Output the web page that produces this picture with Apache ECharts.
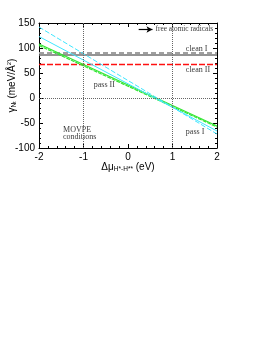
<!DOCTYPE html>
<html><head><meta charset="utf-8">
<script src="https://cdn.jsdelivr.net/npm/echarts@6/dist/echarts.min.js"></script>
<style>html,body{margin:0;padding:0;background:#fff}#c{width:261px;height:338px}</style>
</head><body><div id="c"></div>
<script>
var xEnds = [-2, 2];
var cyanDashed = [142, -72];
var cyanSolid = [123, -66];
var greenA = [108, -56];
var greenB = [105, -58];
var cleanIDashed = 90;
var cleanISolid = 86;
var cleanII = 67;
var notes = [
  {name: 'free atomic radicals', x: 0.62, y: 137, size: 7.3},
  {name: 'clean I', x: 1.3, y: 99, size: 8},
  {name: 'clean II', x: 1.3, y: 57, size: 8},
  {name: 'pass II', x: -0.77, y: 27, size: 8},
  {name: 'MOVPE', x: -1.46, y: -64, size: 8},
  {name: 'conditions', x: -1.46, y: -77, size: 8},
  {name: 'pass I', x: 1.3, y: -68, size: 8}
];
var arrowFrom = [0.24, 137], arrowTo = [0.55, 137];

function seg(vals){ return xEnds.map(function(x,i){return [x, vals[i]];}); }
function flat(v){ return xEnds.map(function(x){return [x, v];}); }

var chart = echarts.init(document.getElementById('c'), null, {renderer:'canvas'});
var sans = 'Liberation Sans, Arial, sans-serif';
var axisFont = {fontFamily:sans, fontSize:10, color:'#000'};
var serif = 'Liberation Serif, Times New Roman, serif';
var baseX = {type:'value', min:-2, max:2, interval:1,
  axisLine:{show:true, onZero:false, lineStyle:{color:'#000', width:1}},
  axisTick:{show:true, inside:true, length:4, lineStyle:{color:'#000'}},
  minorTick:{show:true, splitNumber:5, length:2, lineStyle:{color:'#000'}},
  splitLine:{show:false}};
var baseY = {type:'value', min:-100, max:150, interval:50,
  axisLine:{show:true, onZero:false, lineStyle:{color:'#000', width:1}},
  axisTick:{show:true, inside:true, length:4, lineStyle:{color:'#000'}},
  minorTick:{show:true, splitNumber:5, length:2, lineStyle:{color:'#000'}},
  splitLine:{show:false}};

function lineSeries(data, color, type, width){
  return {type:'line', data:data, symbol:'none', silent:true, animation:false, clip:false,
    lineStyle:{color:color, width:width||1, type:type||'solid'}};
}

chart.setOption({
  animation:false,
  grid:{left:39, right:44, top:23, bottom:190, containLabel:false, outerBoundsMode:'none'},
  xAxis:[
    Object.assign({}, baseX, {position:'bottom',
      axisLabel:Object.assign({show:true, margin:4}, axisFont),
      name:'{a|Δμ}{s|H*-H**}{a| (eV)}', nameLocation:'middle', nameGap:14, nameMoveOverlap:false,
      nameTextStyle:{rich:{a:{fontFamily:sans, fontSize:10, color:'#000'},
        s:{fontFamily:sans, fontSize:6.5, color:'#000', padding:[0,0,-4,0]}}}}),
    Object.assign({}, baseX, {position:'top', axisLabel:{show:false}})
  ],
  yAxis:[
    Object.assign({}, baseY, {position:'left',
      axisLabel:Object.assign({show:true, margin:4}, axisFont),
      name:'{a|γ}{s|N}{t|t}{a| (meV/Å}{p|2}{a|)}', nameLocation:'middle', nameGap:21, nameMoveOverlap:false,
      nameTextStyle:{rich:{a:{fontFamily:sans, fontSize:10, color:'#000'},
        s:{fontFamily:sans, fontSize:6.5, color:'#000', padding:[0,0,-4,0]},
        t:{fontFamily:sans, fontSize:5, color:'#000', padding:[0,0,-6,0]},
        p:{fontFamily:sans, fontSize:6, color:'#000', padding:[0,0,6,0]}}}}),
    Object.assign({}, baseY, {position:'right', axisLabel:{show:false}})
  ],
  series:[
    {type:'line', data:[], symbol:'none', silent:true,
      markLine:{silent:true, symbol:'none', label:{show:false},
        lineStyle:{color:'#666', type:'dotted', width:1},
        data:[{xAxis:-1},{xAxis:1},{yAxis:0}]}},
    lineSeries(flat(cleanIDashed), '#a0a0a0', [5,3], 2),
    lineSeries(flat(cleanISolid), '#707070', 'solid', 1.5),
    lineSeries(flat(cleanII), '#ff1010', [6,2], 1.5),
    lineSeries(seg(greenA), '#33e633', 'solid', 1.2),
    lineSeries(seg(greenB), '#33e633', [4,1], 1.2),
    lineSeries(seg(cyanSolid), '#40e6ff', 'solid', 1),
    lineSeries(seg(cyanDashed), '#40e6ff', [5,2], 1),
    {type:'line', data:[], symbol:'none', silent:true,
      markLine:{silent:true, symbol:['none','arrow'], symbolSize:[5,6], label:{show:false},
        lineStyle:{color:'#000', type:'solid', width:1.2},
        data:[[{coord:arrowFrom},{coord:arrowTo}]]}},
    {type:'scatter', symbolSize:0, silent:true, clip:false,
      data:notes.map(function(n){return {name:n.name, value:[n.x,n.y],
        label:{fontSize:n.size}};}),
      label:{show:true, position:'right', distance:0, formatter:'{b}',
        fontFamily:serif, fontSize:8, color:'#000'},
      labelLayout:{hideOverlap:false}}
  ]
});
</script></body></html>
